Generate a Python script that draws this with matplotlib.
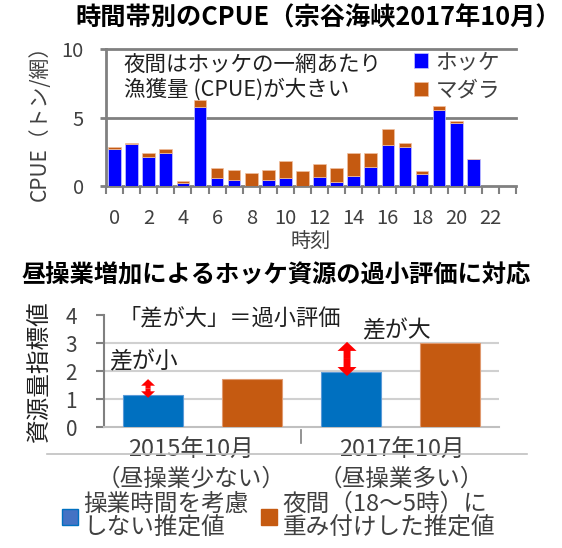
import matplotlib
matplotlib.use('Agg')
import matplotlib.pyplot as plt
from matplotlib.lines import Line2D
from matplotlib.patches import Patch
from matplotlib.transforms import blended_transform_factory
import numpy as np

plt.rcParams['font.family'] = ['Noto Sans CJK JP', 'DejaVu Sans']

# ---------------- data ----------------
hours = list(range(24))
hokke = [2.71, 3.05, 2.14, 2.41, 0.25, 5.74, 0.57, 0.44, 0.00, 0.44, 0.57, 0.00,
         0.66, 0.27, 0.76, 1.40, 2.98, 2.88, 0.84, 5.57, 4.63, 1.97, 0.00, 0.00]
madara = [0.15, 0.10, 0.27, 0.30, 0.12, 0.56, 0.73, 0.76, 0.94, 0.76, 1.28, 1.10,
          0.92, 1.03, 1.65, 1.01, 1.21, 0.27, 0.26, 0.27, 0.10, 0.00, 0.00, 0.00]
hour_ticks = [0, 2, 4, 6, 8, 10, 12, 14, 16, 18, 20, 22]
top_yticks = [0, 5, 10]

group_years = ['2015年10月', '2017年10月']
group_notes = ['（昼操業少ない）', '（昼操業多い）']
est_plain = [1.15, 1.95]
est_weighted = [1.70, 3.00]
bottom_yticks = [0, 1, 2, 3, 4]

W, H = 562, 548
fig = plt.figure(figsize=(W / 100, H / 100), dpi=100)


def fx(px):
    return px / W


def fy(py):
    return 1 - py / H


GRAY = '#808080'
BLUE = '#0000FF'
ORANGE = '#C55A11'
BLUE2 = '#0070C0'
TXT = '#404040'

# ---------------- top chart ----------------
ax1 = fig.add_axes([fx(106), fy(186), (516 - 106) / W, (186 - 49) / H])
ax1.bar(hours, hokke, width=0.74, color=BLUE, edgecolor='#c8c8ff', linewidth=0.5,
        label='ホッケ', zorder=3)
ax1.bar(hours, madara, bottom=hokke, width=0.74, color=ORANGE, edgecolor='#f0c0a0',
        linewidth=0.5, label='マダラ', zorder=3)
ax1.set_xlim(-0.5, 23.5)
ax1.set_ylim(0, 10)
for v in top_yticks[1:]:
    ax1.axhline(v, color=GRAY, lw=2, clip_on=False, zorder=1)
for s in ['top', 'right']:
    ax1.spines[s].set_visible(False)
ax1.spines['left'].set_color(GRAY)
ax1.spines['left'].set_linewidth(2)
ax1.spines['bottom'].set_color(GRAY)
ax1.spines['bottom'].set_linewidth(2)
ax1.set_yticks(top_yticks)
ax1.tick_params(axis='y', length=4, width=2, color=GRAY, pad=12, labelsize=14.5,
                labelcolor=TXT)
ax1.set_xticks(hour_ticks)
ax1.set_xticks(np.arange(-0.5, 24, 1), minor=True)
ax1.tick_params(axis='x', which='major', length=0, pad=16, labelsize=14.5,
                labelcolor=TXT)
ax1.tick_params(axis='x', which='minor', length=6, width=1.5, color=GRAY)
ax1.set_ylabel('CPUE（トン/網）', fontsize=15, color=TXT, labelpad=8)
ax1.set_xlabel('時刻', fontsize=14.5, color=TXT, labelpad=1)
ax1.text(fx(124), fy(65), '夜間はホッケの一網あたり', transform=fig.transFigure,
         fontsize=15.5, va='center', ha='left', color='#202020')
ax1.text(fx(124), fy(90), '漁獲量 (CPUE)が大きい', transform=fig.transFigure,
         fontsize=15.5, va='center', ha='left', color='#202020')
leg1 = ax1.legend(loc='upper left', bbox_to_anchor=(fx(414), fy(51)),
                  bbox_transform=fig.transFigure, frameon=False, fontsize=15.5,
                  handlelength=0.65, handleheight=0.65, handletextpad=0.35,
                  labelspacing=0.3, borderpad=0, borderaxespad=0)
for t in leg1.get_texts():
    t.set_color(TXT)

fig.text(fx(318), fy(18), '時間帯別のCPUE（宗谷海峡2017年10月）', fontsize=18.2,
         fontweight='bold', ha='center', va='center')

# ---------------- bottom chart ----------------
fig.text(fx(276), fy(275), '昼操業増加によるホッケ資源の過小評価に対応', fontsize=17.5,
         fontweight='bold', ha='center', va='center')

ax2 = fig.add_axes([fx(103.5), fy(427), 396 / W, (427 - 315) / H])
xpos = np.array([0, 2])
ax2.bar(xpos, est_plain, width=0.6, color=BLUE2, edgecolor='#5a9ad8', linewidth=0.8,
        zorder=3)
ax2.bar(xpos + 1, est_weighted, width=0.6, color=ORANGE, edgecolor='#e09a70',
        linewidth=0.8, zorder=3)
ax2.set_xlim(-0.5, 3.5)
ax2.set_ylim(0, 4)
for v in bottom_yticks[1:-1]:
    ax2.axhline(v, color='#D0D0D0', lw=1.5, zorder=1)
for s in ['top', 'right']:
    ax2.spines[s].set_visible(False)
ax2.spines['bottom'].set_color('#C0C0C0')
ax2.spines['bottom'].set_linewidth(1.5)
ax2.spines['left'].set_color(GRAY)
ax2.spines['left'].set_linewidth(1.5)
ax2.set_yticks(bottom_yticks)
ax2.set_xticks([])
ax2.tick_params(axis='y', length=6, width=1.5, color=GRAY, pad=13, labelsize=15,
                labelcolor=TXT)
ax2.set_ylabel('資源量指標値', fontsize=17, color='#202020', labelpad=10)

# group labels
bt = blended_transform_factory(ax2.transData, fig.transFigure)
group_centers = [0.38, 2.51]
for gx, yr, nt in zip(group_centers, group_years, group_notes):
    ax2.text(gx, fy(450), yr, transform=bt, fontsize=17, ha='center', va='center',
             color=TXT)
    ax2.text(gx, fy(479), nt, transform=bt, fontsize=17, ha='center', va='center',
             color=TXT)
fig.add_artist(Line2D([fx(47), fx(527)], [fy(454), fy(454)], color='#C0C0C0', lw=1.2))
fig.add_artist(Line2D([fx(301), fx(301)], [fy(430), fy(443)], color=GRAY, lw=1.2))

# annotations
ax2.text(fx(119), fy(318), '「差が大」＝過小評価', transform=fig.transFigure, fontsize=16,
         ha='left', va='center', color='#202020')
ax2.text(fx(362), fy(331), '差が大', transform=fig.transFigure, fontsize=16.5,
         ha='left', va='center', color='#202020')
ax2.text(fx(109), fy(362), '差が小', transform=fig.transFigure, fontsize=16.5,
         ha='left', va='center', color='#202020')
arrow_x = [-0.05, 1.96]
arrow_lo = [1.04, 1.82]
arrow_hi = [1.71, 3.04]
arrow_scale = [7.3, 10]
for xa, y0, y1, ms in zip(arrow_x, arrow_lo, arrow_hi, arrow_scale):
    ym = (y0 + y1) / 2
    for yend in (y0, y1):
        ax2.annotate('', xy=(xa, yend), xytext=(xa, ym),
                     arrowprops=dict(arrowstyle='simple,head_length=0.65,head_width=1.37,tail_width=0.5',
                                     color='#FF0000', lw=0, shrinkA=0, shrinkB=0,
                                     mutation_scale=ms), zorder=5)

handles = [Patch(facecolor='#4472C4', edgecolor=BLUE2, linewidth=1),
           Patch(facecolor=ORANGE, edgecolor=ORANGE, linewidth=1)]
labels = ['操業時間を考慮\nしない推定値', '夜間（18～5時）に\n重み付けした推定値']
leg2 = fig.legend(handles, labels, loc='upper left', bbox_to_anchor=(fx(62), fy(493)),
                  bbox_transform=fig.transFigure, frameon=False, fontsize=17,
                  ncol=2, handlelength=0.67, handleheight=0.67, handletextpad=0.22,
                  columnspacing=0.55, borderpad=0, borderaxespad=0)
for t in leg2.get_texts():
    t.set_color(TXT)
    t.set_linespacing(1.05)

fig.savefig('out.png', dpi=100)
